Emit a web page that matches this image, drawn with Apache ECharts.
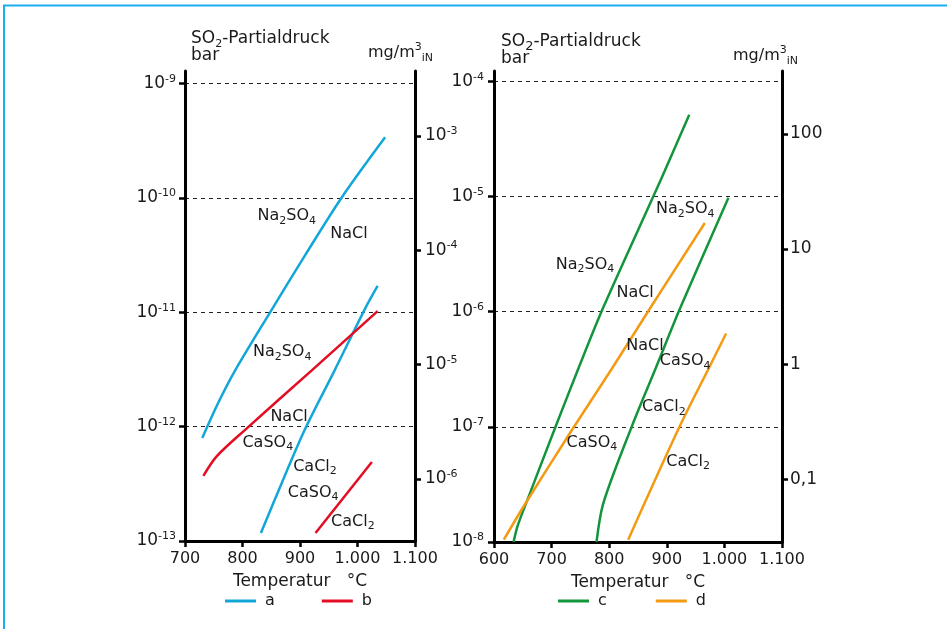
<!DOCTYPE html>
<html><head><meta charset="utf-8">
<script src="https://cdn.jsdelivr.net/npm/echarts@6/dist/echarts.min.js"></script>
<style>html,body{margin:0;padding:0;background:#fff}#c{width:947px;height:629px}</style>
</head><body><div id="c"></div>
<script>
// ---------------- data ----------------
// Left chart: a (cyan), b (red). Temperature in °C, SO2 partial pressure as log10(bar)
const a1T = [730, 757, 787, 848, 909, 972, 1048];
const a1P = [-12.10, -11.80, -11.51, -11.00, -10.50, -10.00, -9.47];
const a2T = [832, 856, 908, 960, 1013, 1035];
const a2P = [-12.93, -12.64, -12.03, -11.51, -10.97, -10.77];
const b1T = [732, 755, 804, 920, 1035];
const b1P = [-12.43, -12.26, -12.03, -11.51, -10.99];
const b2T = [927, 1025];
const b2P = [-12.93, -12.31];
// Right chart: c (green), d (orange)
const c1T = [634, 641, 656, 706, 746, 790, 890, 939];
const c1P = [-8.00, -7.86, -7.66, -7.01, -6.50, -5.96, -4.85, -4.29];
const c2T = [778, 790, 839, 880, 924, 1007];
const c2P = [-8.00, -7.66, -7.00, -6.50, -5.96, -5.01];
const d1T = [617, 654, 735, 804, 871, 966];
const d1P = [-7.98, -7.67, -7.03, -6.50, -5.97, -5.23];
const d2T = [833, 922, 972, 1003];
const d2P = [-7.98, -7.00, -6.50, -6.19];

// curve annotations: [text, temperature, log10(bar)]
const labelsLeft = [
  ['Na2SO4', 877, -10.16], ['NaCl', 985, -10.31], ['Na2SO4', 869, -11.35],
  ['NaCl', 881, -11.91], ['CaSO4', 844, -12.14], ['CaCl2', 926, -12.35],
  ['CaSO4', 923, -12.58], ['CaCl2', 992, -12.83]
];
const labelsRight = [
  ['Na2SO4', 932, -5.11], ['Na2SO4', 758, -5.59], ['NaCl', 845, -5.84],
  ['NaCl', 862, -6.30], ['CaSO4', 932, -6.43], ['CaCl2', 895, -6.83],
  ['CaSO4', 770, -7.14], ['CaCl2', 937, -7.30]
];

// axis ticks
const leftBarDecades = [-13, -12, -11, -10, -9];
const leftMgDecades = [-6, -5, -4, -3];
const rightBarDecades = [-8, -7, -6, -5, -4];
const rightMgDecades = [-1, 0, 1, 2];
const rightMgLabels = ['0,1', '1', '10', '100'];
const legendLeft = ['a', 'b'];
const legendRight = ['c', 'd'];

// SO2: mg/m3 (i.N.) per bar
const SO2_MG_PER_BAR = 2.86e6;
const OFF = Math.log10(SO2_MG_PER_BAR);

// ---------------- styling ----------------
const FONT = '"DejaVu Sans", Verdana, sans-serif';
const TXT = '#1a1a1a';
const COL = { a: '#13a6d8', b: '#e30d24', c: '#13953b', d: '#f39a12' };
const rich = {
  sub: { fontSize: 11, fontFamily: FONT, color: TXT, fill: TXT, verticalAlign: 'bottom', lineHeight: 11 },
  sup: { fontSize: 11, fontFamily: FONT, color: TXT, fill: TXT, verticalAlign: 'top', lineHeight: 15 },
  s2: { fontSize: 13, fontFamily: FONT, color: TXT, fill: TXT, verticalAlign: 'bottom', lineHeight: 17 }
};
const chem = s => s.replace(/(\d)/g, '{sub|$1}');
const fmtT = v => v >= 1000 ? Math.floor(v / 1000) + '.' + String(v % 1000).padStart(3, '0') : String(v);
const pow10 = v => '10{sup|' + Math.round(v) + '}';

function xAx(gridIndex, min) {
  return {
    type: 'value', gridIndex, min, max: 1100, interval: 100, position: 'bottom',
    axisLine: { onZero: false, lineStyle: { color: '#000', width: 3 } },
    axisTick: { length: 6, lineStyle: { color: '#000', width: 2.5 } },
    axisLabel: { formatter: fmtT, margin: 10, fontSize: 16, color: TXT, fontFamily: FONT, showMinLabel: true, showMaxLabel: true },
    splitLine: { show: false },
    name: 'Temperatur   °C', nameLocation: 'middle', nameGap: 32,
    nameTextStyle: { fontSize: 17, color: TXT, fontFamily: FONT }
  };
}
function yAx(gridIndex, position, min, max, vals, fmt, split, margin) {
  return {
    type: 'value', gridIndex, position, min, max,
    axisLine: { show: true, onZero: false, lineStyle: { color: '#000', width: 3 } },
    axisTick: { show: true, inside: false, length: 6, lineStyle: { color: '#000', width: 2.5 }, customValues: vals },
    axisLabel: { show: true, margin, customValues: vals, formatter: fmt, color: TXT, fontFamily: FONT, fontSize: 17, lineHeight: 20, rich },
    splitLine: { show: split, lineStyle: { color: '#222', width: 1, type: [4, 4] } }
  };
}
function lineS(name, T, P, xi, yi) {
  return {
    type: 'line', name, xAxisIndex: xi, yAxisIndex: yi, data: T.map((t, i) => [t, P[i]]),
    showSymbol: false, symbol: 'none', smooth: 0.3, silent: true, z: 3,
    lineStyle: { color: COL[name], width: 2.5 }, itemStyle: { color: COL[name] }
  };
}
function labelS(labels, xi, yi) {
  return {
    type: 'scatter', xAxisIndex: xi, yAxisIndex: yi, symbolSize: 1, silent: true, z: 5,
    itemStyle: { color: 'rgba(0,0,0,0)', opacity: 1 },
    data: labels.map(l => ({ name: l[0], value: [l[1], l[2]] })),
    label: { show: true, position: 'inside', opacity: 1, formatter: p => chem(p.name), fontFamily: FONT, fontSize: 16, color: TXT, lineHeight: 20, rich }
  };
}
function legendOf(data, left, gap) {
  return {
    data, left, top: 591, padding: 0, itemWidth: 31, itemHeight: 3, itemGap: gap, icon: 'rect', selectedMode: false,
    textStyle: { fontSize: 16, color: TXT, fontFamily: FONT, lineHeight: 20, padding: [0, 0, 0, 4] }
  };
}
function txt(x, y, text, size) {
  return { type: 'text', x, y, silent: true,
    style: { text, fontFamily: FONT, fontSize: size || 17, fill: TXT, lineHeight: 22, rich } };
}

const L_MIN = -13, L_MAX = -8.89, R_MIN = -8, R_MAX = -3.91;

const option = {
  animation: false,
  backgroundColor: '#fff',
  grid: [
    { left: 185, top: 71, width: 230, height: 470 },
    { left: 494, top: 71, width: 288, height: 471 }
  ],
  xAxis: [xAx(0, 700), xAx(1, 600)],
  yAxis: [
    yAx(0, 'left', L_MIN, L_MAX, leftBarDecades, pow10, true, 9),
    yAx(0, 'right', L_MIN + OFF, L_MAX + OFF, leftMgDecades, pow10, false, 10),
    yAx(1, 'left', R_MIN, R_MAX, rightBarDecades, pow10, true, 10),
    yAx(1, 'right', R_MIN + OFF, R_MAX + OFF, rightMgDecades,
        v => rightMgLabels[rightMgDecades.indexOf(Math.round(v))], false, 8)
  ],
  legend: [legendOf(legendLeft, 225, 47), legendOf(legendRight, 558, 49)],
  series: [
    lineS('a', a1T, a1P, 0, 0), lineS('a', a2T, a2P, 0, 0),
    lineS('b', b1T, b1P, 0, 0), lineS('b', b2T, b2P, 0, 0),
    lineS('c', c1T, c1P, 1, 2), lineS('c', c2T, c2P, 1, 2),
    lineS('d', d1T, d1P, 1, 2), lineS('d', d2T, d2P, 1, 2),
    labelS(labelsLeft, 0, 0), labelS(labelsRight, 1, 2)
  ],
  graphic: [
    { type: 'polyline', silent: true, shape: { points: [[4, 629], [4, 5.5], [947, 5.5]] },
      style: { stroke: '#1aaeee', lineWidth: 2, fill: null } },
    txt(191, 28, 'SO{sub|2}-Partialdruck'),
    txt(191, 45, 'bar'),
    txt(368, 42, 'mg/m{sup|3}{sub|iN}', 16),
    txt(501, 31, 'SO{s2|2}-Partialdruck'),
    txt(501, 48, 'bar'),
    txt(733, 45, 'mg/m{sup|3}{sub|iN}', 16)
  ]
};

const chart = echarts.init(document.getElementById('c'), null, { renderer: 'canvas' });
chart.setOption(option);
</script></body></html>
